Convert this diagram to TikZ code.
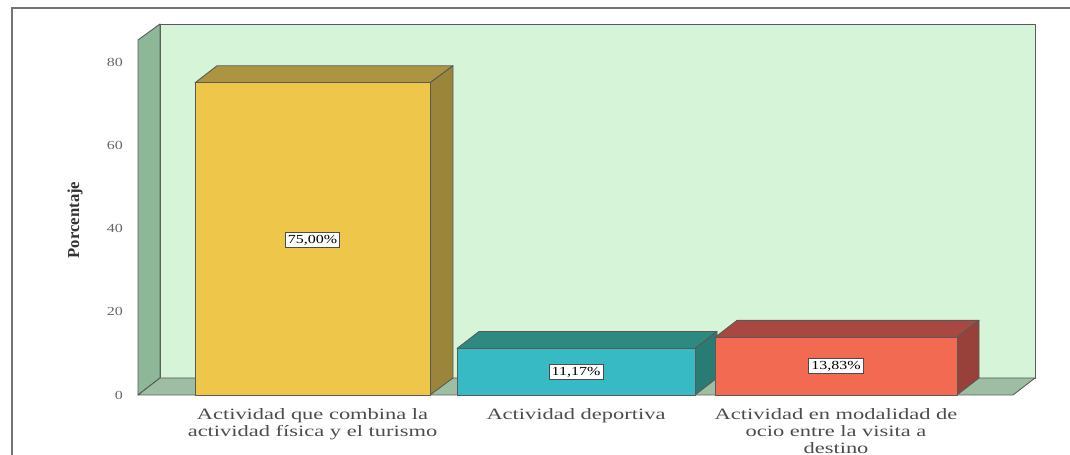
\documentclass[tikz,border=0pt]{standalone}
\usepackage{fontspec}
\setmainfont{Liberation Serif}
\newfontfamily\chartfont[FakeStretch=1.3]{Liberation Serif}
\newfontfamily\catfont[FakeStretch=1.42]{Liberation Serif}
\usepackage{xcolor}
\usepackage{tikz}
\usetikzlibrary{positioning}
\definecolor{wallback}{RGB}{214,244,216}
\definecolor{wallside}{RGB}{141,183,150}
\definecolor{floorcol}{RGB}{158,190,163}
\definecolor{yelfront}{RGB}{238,198,74}
\definecolor{yeldark}{RGB}{172,148,66}
\definecolor{tealfront}{RGB}{56,186,196}
\definecolor{tealdark}{RGB}{46,138,128}
\definecolor{redfront}{RGB}{242,106,82}
\definecolor{reddark}{RGB}{168,72,64}
\tikzset{
  Face/.style={draw=black!65, line width=0.5pt, line join=round},
  ValBox/.style={
    draw=black!70, fill=white, inner sep=1.5pt,
    font=\chartfont\fontsize{7}{8}\selectfont,
  },
  CatLabel/.style={
    align=center, anchor=north, text=black!70,
    font=\catfont\fontsize{9}{9.8}\selectfont,
  },
  TickLabel/.style={anchor=east, text=black!60, font=\chartfont\fontsize{7}{8}\selectfont},
}

\begin{document}
\begin{tikzpicture}[x=0.02cm, y=0.02cm]
\useasboundingbox (0,0) rectangle (1070,455);
\draw[black!55, line width=0.8pt] (12,0) -- (12,447) -- (1070,447);
% walls and floor
\filldraw[Face, fill=wallback] (160,77) rectangle (1035,431);
\filldraw[Face, fill=wallside] (138,60) -- (160,77) -- (160,431) -- (138,415) -- cycle;
\filldraw[Face, fill=floorcol] (138,60) -- (1013,60) -- (1035,77) -- (160,77) -- cycle;
\node[TickLabel] (T0) at (129,60) {0};
\node[TickLabel] (T20) at (129,143.25) {20};
\node[TickLabel] (T40) at (129,226.5) {40};
\node[TickLabel] (T60) at (129,309.75) {60};
\node[TickLabel] (T80) at (129,393) {80};
\node[rotate=90, font=\bfseries\fontsize{9.5}{10}\selectfont, text=black!80] (YLAB) at (75,235) {Porcentaje};
% bar 1
\filldraw[Face, fill=yeldark] (195,372.2) -- (217,389.2) -- (453,389.2) -- (430,372.2) -- cycle;
\filldraw[Face, fill=yeldark!90!black] (430,60) -- (453,77) -- (453,389.2) -- (430,372.2) -- cycle;
\filldraw[Face, fill=yelfront] (195,60) rectangle (430,372.2);
\node[ValBox] (V1) at (312.5,215) {75,00\%};
% bar 2
\filldraw[Face, fill=tealdark] (457,106.5) -- (479,123.5) -- (717,123.5) -- (695,106.5) -- cycle;
\filldraw[Face, fill=tealdark!90!black] (695,60) -- (717,77) -- (717,123.5) -- (695,106.5) -- cycle;
\filldraw[Face, fill=tealfront] (457,60) rectangle (695,106.5);
\node[ValBox] (V2) at (576,83) {11,17\%};
% bar 3
\filldraw[Face, fill=reddark] (715,117.6) -- (737,134.6) -- (979,134.6) -- (957,117.6) -- cycle;
\filldraw[Face, fill=reddark!90!black] (957,60) -- (979,77) -- (979,134.6) -- (957,117.6) -- cycle;
\filldraw[Face, fill=redfront] (715,60) rectangle (957,117.6);
\node[ValBox] (V3) at (836,89) {13,83\%};
% categories
\node[CatLabel] (C1) at (312.5,53) {Actividad que combina la\\actividad física y el turismo};
\node[CatLabel] (C2) at (576,53) {Actividad deportiva};
\node[CatLabel] (C3) at (836,53) {Actividad en modalidad de\\ocio entre la visita a\\destino};
\end{tikzpicture}
\end{document}
